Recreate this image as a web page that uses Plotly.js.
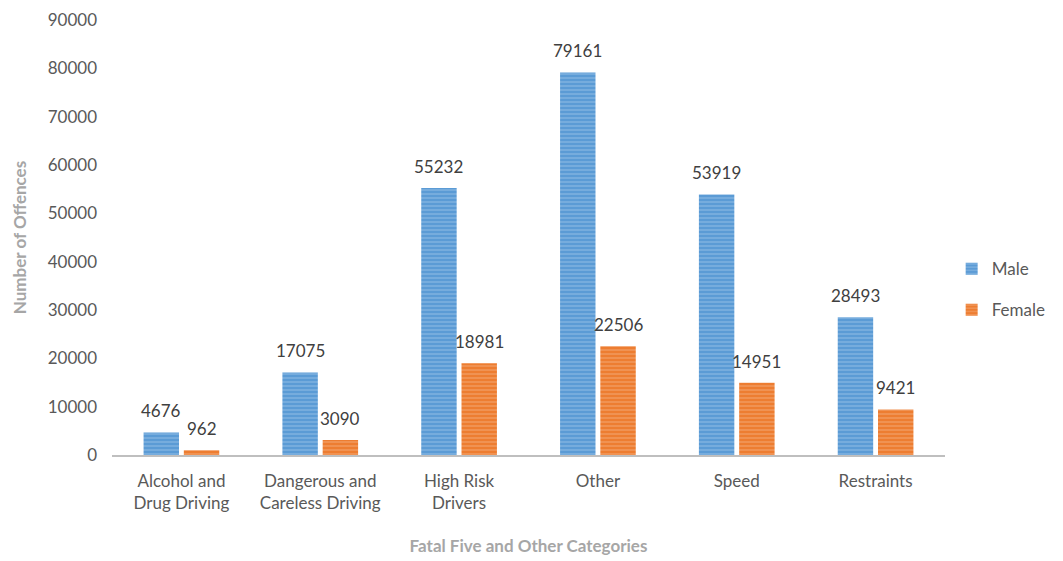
<!DOCTYPE html>
<html><head><meta charset="utf-8">
<script src="https://cdn.plot.ly/plotly-3.0.1.min.js"></script>
<style>body{margin:0;background:#fff}#chart{width:1063px;height:561px}</style>
</head><body><div id="chart"></div>
<script>
const categories = ["Alcohol and<br>Drug Driving", "Dangerous and<br>Careless Driving", "High Risk<br>Drivers", "Other", "Speed", "Restraints"];
const maleValues = [4676, 17075, 55232, 79161, 53919, 28493];
const femaleValues = [962, 3090, 18981, 22506, 14951, 9421];
const yTicks = [0, 10000, 20000, 30000, 40000, 50000, 60000, 70000, 80000, 90000];

const font = "Lato, 'Open Sans', sans-serif";
const bargap = 0.42, bargroupgap = 0.12;
function trace(name, vals, bg, fg) {
  return {
    type: 'bar', name: name, legendgroup: name, x: categories, y: vals,
    marker: {color: bg, line: {width: 0},
      pattern: {shape: '-', bgcolor: bg, fgcolor: fg, fillmode: 'overlay', size: 4, solidity: 0.35}}
  };
}
const data = [
  trace('Male', maleValues, '#5B9BD5', '#A9CBEA'),
  trace('Female', femaleValues, '#ED7D31', '#F6B98F')
];
const slot = (1 - bargap) / 2;
const annotations = [];
[maleValues, femaleValues].forEach((vals, s) => {
  vals.forEach((v, i) => {
    annotations.push({
      x: i + (s === 0 ? -slot / 2 : slot / 2), y: v, xref: 'x', yref: 'y',
      text: String(v), showarrow: false, yanchor: 'bottom', yshift: 9,
      font: {family: font, size: 17, color: '#404040'}
    });
  });
});
const layout = {
  width: 1063, height: 561,
  margin: {l: 112, r: 118, t: 20, b: 106},
  paper_bgcolor: '#fff', plot_bgcolor: '#fff',
  font: {family: font, color: '#595959', size: 17},
  barmode: 'group', bargap: bargap, bargroupgap: bargroupgap,
  showlegend: true,
  annotations: annotations,
  legend: {x: 1.008, y: 0.38, xanchor: 'left', yanchor: 'middle', font: {size: 17, color: '#595959'}, tracegroupgap: 16, itemwidth: 30},
  xaxis: {
    showline: true, linecolor: '#bfbfbf', linewidth: 1.5, ticks: '', showgrid: false,
    tickfont: {size: 17, color: '#595959'}, ticklabelstandoff: 10,
    title: {text: 'Fatal Five and Other Categories', font: {size: 17, color: '#a6a6a6', weight: 'bold'}, standoff: 28}
  },
  yaxis: {
    range: [0, 90000], tickvals: yTicks, ticktext: yTicks.map(String),
    showgrid: false, zeroline: false, showline: false, ticks: '',
    tickfont: {size: 17, color: '#595959'}, ticklabelstandoff: 14,
    title: {text: 'Number of Offences', font: {size: 17, color: '#a6a6a6', weight: 'bold'}, standoff: 16}
  }
};
Plotly.newPlot('chart', data, layout, {displayModeBar: false});
</script></body></html>
